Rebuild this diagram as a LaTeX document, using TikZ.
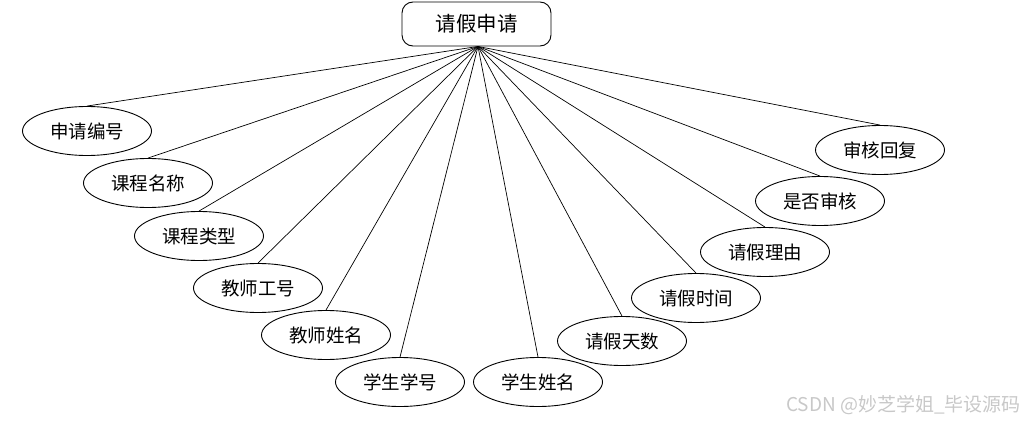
\documentclass[tikz,border=0pt]{standalone}
\usepackage{fontspec}
\newfontfamily\cjk{Noto Sans CJK SC}
\usetikzlibrary{shapes.geometric}
\definecolor{wm}{RGB}{200,200,200}
\tikzset{
  attr/.style={ellipse, draw=black, line width=0.9pt, minimum width=129pt, minimum height=49pt, inner sep=0pt, font=\cjk\fontsize{18.5}{20}\selectfont},
  ent/.style={rectangle, rounded corners=11pt, draw=black, line width=0.9pt, minimum width=149pt, minimum height=44pt, inner sep=0pt, font=\cjk\fontsize{20.5}{22}\selectfont},
  link/.style={draw=black, line width=0.7pt}
}
\begin{document}
\begin{tikzpicture}[x=1pt,y=-1pt]
\useasboundingbox (0,0) rectangle (1027,423);
\node[ent] (top) at (476.5,24) {请假申请};
\node[attr] (a1) at (87,131) {申请编号};
\node[attr] (a2) at (148,183) {课程名称};
\node[attr] (a3) at (199,236) {课程类型};
\node[attr] (a4) at (258,288) {教师工号};
\node[attr] (a5) at (326,335) {教师姓名};
\node[attr] (a6) at (400,382) {学生学号};
\node[attr] (a7) at (538,382) {学生姓名};
\node[attr] (a8) at (622,341) {请假天数};
\node[attr] (a9) at (696,298) {请假时间};
\node[attr] (a10) at (765,252) {请假理由};
\node[attr] (a11) at (820,201) {是否审核};
\node[attr] (a12) at (880,150) {审核回复};
\coordinate (hub) at ([xshift=1.5pt]top.south);
\foreach \n in {a1,a2,a3,a4,a5,a6,a7,a8,a9,a10,a11,a12}{
  \draw[link] (hub) -- (\n.north);
}
\node[font=\cjk\fontsize{19}{21}\selectfont, text=wm, anchor=east, inner sep=0pt] (wmk) at (1021,405) {CSDN @妙芝学姐\_毕设源码};
\end{tikzpicture}
\end{document}
